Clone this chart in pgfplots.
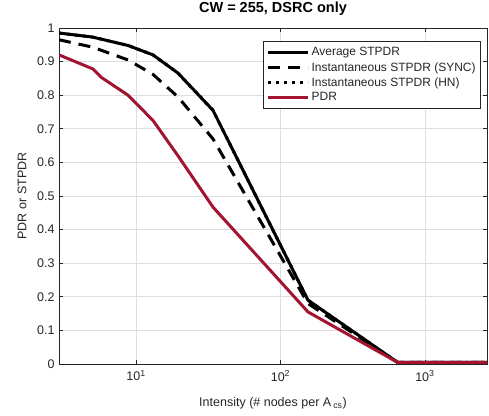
\documentclass[border=0pt]{standalone}
\usepackage{fontspec}
\setmainfont{Liberation Sans}
\usepackage{pgfplots}
\pgfplotsset{compat=1.18}
\definecolor{mred}{rgb}{0.635,0.078,0.184}
\definecolor{axgray}{RGB}{38,38,38}
\definecolor{gridgray}{RGB}{222,222,222}
\definecolor{mgridgray}{RGB}{185,185,185}
\begin{document}
\begin{tikzpicture}
\path[use as bounding box] (-59pt,-51pt) rectangle (430pt,364pt);
\begin{axis}[
  at={(0pt,0pt)}, anchor=south west,
  scale only axis, width=428pt, height=336pt,
  xmode=log, log basis x=10,
  xmin=2.93, xmax=2690, ymin=0, ymax=1,
  xtick={10,100,1000},
  xticklabels={10\textsuperscript{1},10\textsuperscript{2},10\textsuperscript{3}},
  ytick={0,0.1,0.2,0.3,0.4,0.5,0.6,0.7,0.8,0.9,1},
  yticklabels={0,0.1,0.2,0.3,0.4,0.5,0.6,0.7,0.8,0.9,1},
  tick align=inside,
  major tick length=4.5pt, minor tick length=3pt,
  every tick/.style={axgray, line width=0.7pt},
  axis line style={axgray, line width=0.7pt},
  xmajorgrids, xminorgrids, ymajorgrids,
  major grid style={gridgray, line width=0.7pt},
  minor grid style={mgridgray, line width=0.6pt, dotted},
  tick label style={font=\fontsize{12.5}{14}\selectfont, text=axgray},
  yticklabel style={xshift=-1pt},
  xticklabel style={yshift=-3pt},
  xlabel={Intensity (\# nodes per A\,\textsubscript{cs})},
  ylabel={PDR or STPDR},
  label style={font=\fontsize{12.5}{14}\selectfont, text=axgray},
  xlabel style={at={(axis description cs:0.5,-0.116)}, anchor=center},
  ylabel style={at={(axis description cs:-0.0864,0.5)}, anchor=center},
  title={CW = 255, DSRC only},
  title style={at={(axis description cs:0.5,1.0387)}, anchor=center, font=\bfseries\fontsize{14.5}{16}\selectfont},
  legend style={at={(axis description cs:0.986,0.961)}, anchor=north east,
    draw=axgray, line width=0.7pt, fill=white, font=\fontsize{12}{13}\selectfont,
    inner xsep=3pt, inner ysep=4pt, row sep=1pt, text=axgray},
  legend cell align=left,
  legend image code/.code={\draw[#1] (0pt,0pt) -- (40pt,0pt);},
]
\addplot[black, line width=3pt] coordinates {
(2.93,0.985) (5.0,0.973) (8.8,0.948) (13.1,0.92) (19.5,0.866) (34.1,0.755) (155,0.19) (646,0.005) (2690,0.005)};
\addlegendentry{Average STPDR}
\addplot[black, line width=3pt, dash pattern=on 12pt off 8pt] coordinates {
(2.93,0.965) (5.0,0.943) (8.8,0.905) (13.1,0.862) (19.5,0.795) (34.1,0.67) (155,0.18) (646,0.005) (2690,0.005)};
\addlegendentry{Instantaneous STPDR (SYNC)}
\addplot[black, line width=3pt, dash pattern=on 3pt off 5pt] coordinates {
(2.93,0.985) (5.0,0.973) (8.8,0.948) (13.1,0.92) (19.5,0.866) (34.1,0.755) (155,0.19) (646,0.005) (2690,0.005)};
\addlegendentry{Instantaneous STPDR (HN)}
\addplot[mred, line width=3pt] coordinates {
(2.93,0.92) (5.04,0.878) (5.8,0.852) (8.8,0.80) (13.1,0.725) (19.5,0.62) (34.1,0.467) (155,0.155) (646,0.005) (2690,0.005)};
\addlegendentry{PDR}
\end{axis}
\end{tikzpicture}
\end{document}
